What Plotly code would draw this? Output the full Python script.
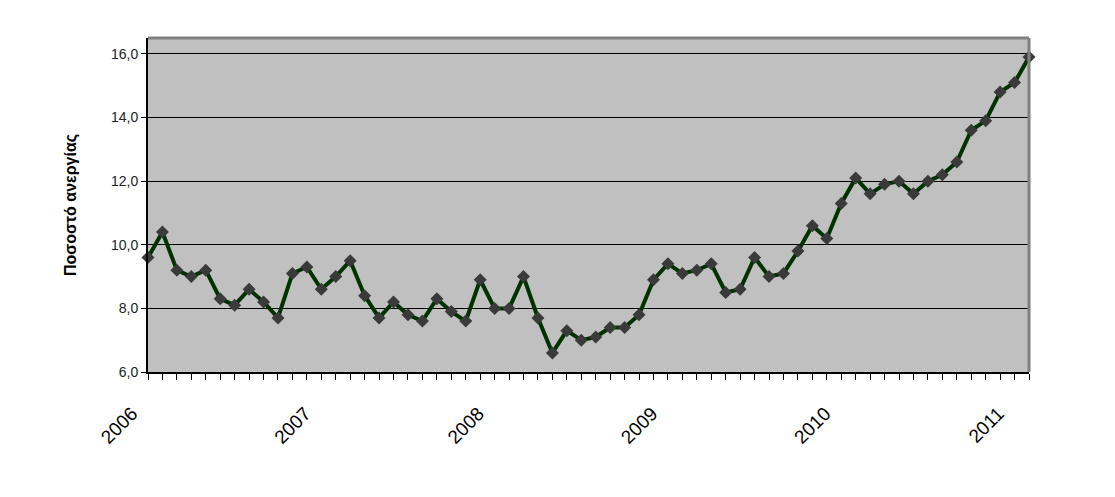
import plotly.graph_objects as go

# monthly unemployment rate, Jan 2006 .. Feb 2011
months = list(range(62))
rate = [9.6, 10.4, 9.2, 9.0, 9.2, 8.3, 8.1, 8.6, 8.2, 7.7, 9.1, 9.3,
        8.6, 9.0, 9.5, 8.4, 7.7, 8.2, 7.8, 7.6, 8.3, 7.9, 7.6, 8.9,
        8.0, 8.0, 9.0, 7.7, 6.6, 7.3, 7.0, 7.1, 7.4, 7.4, 7.8, 8.9,
        9.4, 9.1, 9.2, 9.4, 8.5, 8.6, 9.6, 9.0, 9.1, 9.8, 10.6, 10.2,
        11.3, 12.1, 11.6, 11.9, 12.0, 11.6, 12.0, 12.2, 12.6, 13.6, 13.9, 14.8,
        15.1, 15.9]
years = ["2006", "2007", "2008", "2009", "2010", "2011"]

tick_text = ["" for _ in months]
for k, y in enumerate(years):
    tick_text[k * 12] = y

fig = go.Figure()
fig.add_trace(go.Scatter(
    x=months, y=rate, mode="lines+markers",
    line=dict(color="#003300", width=4),
    marker=dict(symbol="diamond", size=10, color="#3a3a3a"),
    cliponaxis=False, showlegend=False,
))

# page body adds ~8px offset, margins compensate for it
fig.update_layout(
    width=1115, height=497,
    margin=dict(l=140, r=94, t=30, b=133),
    paper_bgcolor="white", plot_bgcolor="#C0C0C0",
    separators=",.",
    font=dict(family="Liberation Sans, Arial", color="#000000"),
    shapes=[
        dict(type="line", xref="paper", yref="paper", x0=0, x1=1, y0=1, y1=1,
             line=dict(color="#808080", width=3)),
        dict(type="line", xref="paper", yref="paper", x0=1, x1=1, y0=0, y1=1,
             line=dict(color="#808080", width=3)),
    ],
)
fig.update_xaxes(
    range=[0, 61], tickvals=months, ticktext=tick_text, tickangle=-45,
    ticks="outside", ticklen=6, tickcolor="black", tickwidth=1,
    tickfont=dict(size=19, color="black"),
    ticklabelshift=-16, ticklabelstandoff=15,
    showgrid=False, zeroline=False, automargin=False,
    showline=True, linecolor="black", linewidth=2,
)
fig.update_yaxes(
    range=[6, 16.5], tickvals=[6, 8, 10, 12, 14, 16], tickformat=".1f",
    ticks="outside", ticklen=5, tickcolor="black",
    tickfont=dict(size=14, color="#222222"),
    showgrid=True, gridcolor="black", gridwidth=1, zeroline=False,
    showline=True, linecolor="black", linewidth=2, automargin=False,
    title=dict(text="<b>Ποσοστό ανεργίας</b>", font=dict(size=16), standoff=30),
)

fig.write_html("out.html")
